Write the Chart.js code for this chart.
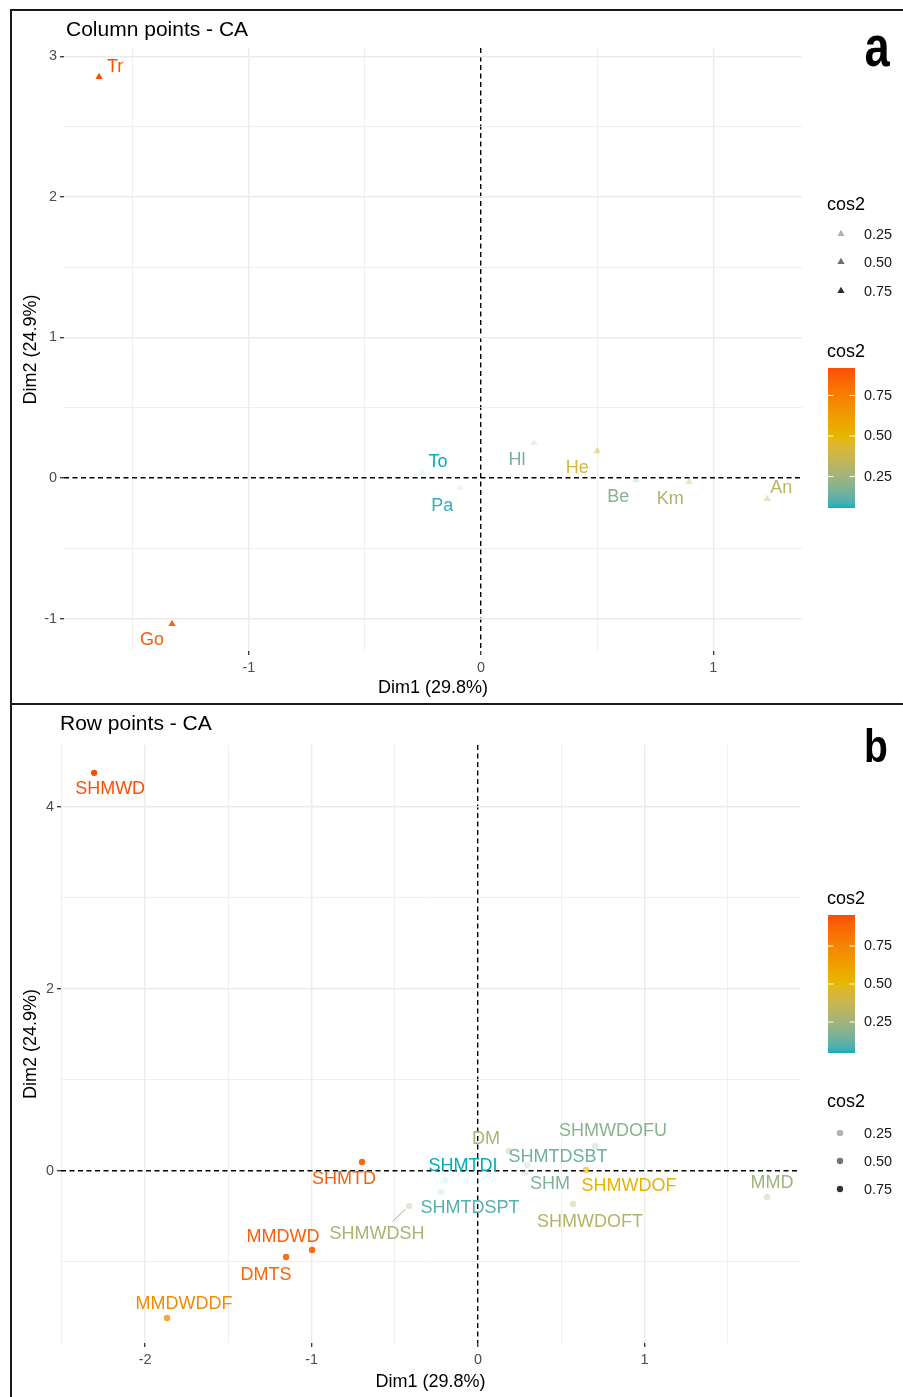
<!DOCTYPE html>
<html><head><meta charset="utf-8">
<script src="https://cdn.jsdelivr.net/npm/chart.js@4.4.1/dist/chart.umd.min.js"></script>
<style>
html,body{margin:0;padding:0;background:#fff;}
body{width:903px;height:1397px;position:relative;overflow:hidden;}
#ca{position:absolute;left:0;top:0;width:903px;height:703px;}
#cb{position:absolute;left:0;top:703px;width:903px;height:694px;}
</style></head><body>
<canvas id="ca" width="903" height="703"></canvas>
<canvas id="cb" width="903" height="694"></canvas>
<script>
// ================= DATA =================
// Panel a: column points
const colLabels = ['Tr','Go','To','Pa','Hl','He','Be','Km','An'];
const colDim1 = [-1.645,-1.331,-0.254,-0.090,0.228,0.500,0.668,0.896,1.232];
const colDim2 = [2.854,-1.039,0.036,-0.071,0.249,0.192,-0.014,-0.028,-0.149];
const colCos2 = [0.920,0.880,0.056,0.070,0.150,0.420,0.200,0.300,0.330];

// Panel b: row points
const rowLabels = ['SHMWD','SHMTD','MMDWD','DMTS','MMDWDDF','SHMWDSH','SHMTDI','SHMTDSPT','DM','SHMTDSBT','SHM','SHMWDOFU','SHMWDOF','SHMWDOFT','MMD'];
const rowDim1 = [-2.306,-0.697,-0.997,-1.153,-1.868,-0.414,-0.198,-0.222,0.186,0.294,0.282,0.703,0.649,0.571,1.736];
const rowDim2 = [4.374,0.099,-0.868,-0.945,-1.615,-0.385,-0.099,-0.231,0.220,0.066,-0.022,0.275,0.011,-0.363,-0.286];
const rowCos2 = [0.954,0.900,0.900,0.880,0.720,0.270,0.046,0.100,0.280,0.140,0.170,0.190,0.530,0.300,0.250];

// Ticks (grid positions) and labelled ticks
const xTicksA = [-1.5,-1,-0.5,0,0.5,1];
const xLabelsA = [-1,0,1];
const yTicksA = [-1,-0.5,0,0.5,1,1.5,2,2.5,3];
const yLabelsA = [-1,0,1,2,3];
const xTicksB = [-2.5,-2,-1.5,-1,-0.5,0,0.5,1,1.5];
const xLabelsB = [-2,-1,0,1];
const yTicksB = [-1,0,1,2,3,4];
const yLabelsB = [0,2,4];
const legendBreaks = [0.25,0.50,0.75];
const axisTitleX = 'Dim1 (29.8%)';
const axisTitleY = 'Dim2 (24.9%)';

// ================= LAYOUT (label nudges in px, not data) =================
const colNudge = [[16,-10],[-20,16],[16,-11],[-18,18],[-17,17],[-20,17],[-18,17],[-19,17],[14,-11]];
const rowNudge = [[16,16],[-18,17],[-29,-13],[-20,18],[17,-14],[-32,28],[18,-14],[29,16],[-23,-12],[31,-8],[25,11],[18,-15],[43,16],[17,18],[5,-14]];
const rowSegments = ['SHMWDSH'];

const FONT = "'Liberation Sans', Arial, Helvetica, sans-serif";
Chart.defaults.font.family = FONT;

// ---- colour ramp in CIELAB (like ggplot gradientn) ----
const STOPS = ['#00AFBB','#E7B800','#FC4E07'];
function hex2rgb(h){return [1,3,5].map(i=>parseInt(h.slice(i,i+2),16));}
function lin(c){c/=255;return c<=0.04045?c/12.92:Math.pow((c+0.055)/1.055,2.4);}
function unlin(c){const v=c<=0.0031308?12.92*c:1.055*Math.pow(c,1/2.4)-0.055;return Math.round(Math.max(0,Math.min(1,v))*255);}
const WX=0.95047, WZ=1.08883;
function f(t){return t>0.008856?Math.cbrt(t):7.787*t+16/116;}
function finv(t){const t3=t*t*t;return t3>0.008856?t3:(t-16/116)/7.787;}
function rgb2lab(rgb){const [R,G,B]=rgb.map(lin);
  const X=0.4124*R+0.3576*G+0.1805*B, Y=0.2126*R+0.7152*G+0.0722*B, Z=0.0193*R+0.1192*G+0.9505*B;
  const fx=f(X/WX),fy=f(Y),fz=f(Z/WZ);return [116*fy-16,500*(fx-fy),200*(fy-fz)];}
function lab2rgb(l){const fy=(l[0]+16)/116, fx=fy+l[1]/500, fz=fy-l[2]/200;
  const X=WX*finv(fx),Y=finv(fy),Z=WZ*finv(fz);
  const R=3.2406*X-1.5372*Y-0.4986*Z,G=-0.9689*X+1.8758*Y+0.0415*Z,B=0.0557*X-0.2040*Y+1.0570*Z;
  return [R,G,B].map(unlin);}
const LABS = STOPS.map(h=>rgb2lab(hex2rgb(h)));
function ramp(t){t=Math.max(0,Math.min(1,t));const s=t<0.5?0:1;const u=(t-s*0.5)/0.5;
  const A=LABS[s],B=LABS[s+1];return lab2rgb([0,1,2].map(k=>A[k]+(B[k]-A[k])*u));}
const rgba=(c,a)=>`rgba(${c[0]},${c[1]},${c[2]},${a})`;

function buildPanel(id, P){
  const min=Math.min(...P.cos2), max=Math.max(...P.cos2);
  const tOf=v=>(v-min)/(max-min);
  const col=v=>ramp(tOf(v));
  const alphaOf=v=>0.1+0.9*Math.max(0,Math.min(1,tOf(v)));
  const ptColors=P.cos2.map(v=>rgba(col(v),alphaOf(v)));
  const isZero=c=>c.tick && Math.abs(c.tick.value)<1e-9;

  function gridOpts(majors){
    return {
      color:c=>isZero(c)?'#000':'#EBEBEB',
      lineWidth:c=>isZero(c)?1.4:(c.tick && majors.includes(c.tick.value)?1.4:0.8),
      tickColor:c=>(c.tick && majors.includes(c.tick.value))?'#333':'rgba(0,0,0,0)',
      tickLength:4, tickWidth:1.3, drawTicks:true
    };
  }
  const borderOpts={display:false, dash:c=>isZero(c)?[5,3.5]:[]};

  const decor={
    id:'decor'+id,
    beforeDraw(chart){
      const ctx=chart.ctx;
      ctx.save();
      ctx.fillStyle='#fff';ctx.fillRect(0,0,chart.width,chart.height);
      ctx.strokeStyle='#1a1a1a';ctx.lineWidth=2;
      ctx.beginPath();ctx.moveTo(11,chart.height);ctx.lineTo(11,P.frameTop);ctx.lineTo(chart.width,P.frameTop);ctx.stroke();
      ctx.restore();
    },
    afterDatasetsDraw(chart){
      const ctx=chart.ctx, meta=chart.getDatasetMeta(0);
      ctx.save();
      ctx.font=`18px ${FONT}`;ctx.textAlign='center';ctx.textBaseline='middle';
      meta.data.forEach((el,i)=>{
        const [dx,dy]=P.nudge[i];
        const c=rgba(col(P.cos2[i]),1);
        if(P.segments.includes(P.labels[i])){
          ctx.strokeStyle=c;ctx.lineWidth=1;
          ctx.beginPath();ctx.moveTo(el.x+dx*0.12,el.y+dy*0.12);ctx.lineTo(el.x+dx*0.52,el.y+dy*0.55);ctx.stroke();
        }
        ctx.fillStyle=c;
        ctx.fillText(P.labels[i],el.x+dx,el.y+dy);
      });
      ctx.restore();
    },
    afterDraw(chart){
      const ctx=chart.ctx;
      ctx.save();
      // title
      ctx.fillStyle='#000';ctx.font=`21px ${FONT}`;ctx.textAlign='left';ctx.textBaseline='middle';
      ctx.fillText(P.title,P.titleX,P.titleY);
      // panel letter
      ctx.save();ctx.translate(P.letter.x,P.letter.y);ctx.scale(P.letter.sx,1);
      ctx.font=`bold ${P.letter.size}px ${FONT}`;ctx.textAlign='center';ctx.textBaseline='alphabetic';
      ctx.fillText(P.letter.text,0,0);ctx.restore();
      // colour bar legend
      const L=P.legend;
      ctx.font=`18px ${FONT}`;ctx.fillStyle='#000';ctx.textAlign='left';ctx.textBaseline='middle';
      ctx.fillText('cos2',L.barX-1,L.colTitleY);
      const bt=L.barTop,bb=L.barBottom,bh=bb-bt;
      for(let y=bt;y<bb;y++){
        const v=max-((y+0.5-bt)/bh)*(max-min);
        ctx.fillStyle=rgba(ramp(tOf(v)),1);ctx.fillRect(L.barX,y,L.barW,1);
      }
      ctx.font=`14.4px ${FONT}`;
      legendBreaks.forEach(b=>{
        const y=bb-(b-min)/(max-min)*bh;
        ctx.strokeStyle='#fff';ctx.lineWidth=1;
        ctx.beginPath();ctx.moveTo(L.barX,y);ctx.lineTo(L.barX+L.barW*0.2,y);
        ctx.moveTo(L.barX+L.barW*0.8,y);ctx.lineTo(L.barX+L.barW,y);ctx.stroke();
        ctx.fillStyle='#1a1a1a';ctx.fillText(b.toFixed(2),L.textX,y);
      });
      // alpha legend
      ctx.font=`18px ${FONT}`;ctx.fillStyle='#000';
      ctx.fillText('cos2',L.barX-1,L.alphaTitleY);
      ctx.font=`14.4px ${FONT}`;
      legendBreaks.forEach((b,k)=>{
        const y=L.alphaY[k], a=alphaOf(b);
        ctx.fillStyle=`rgba(0,0,0,${a})`;
        ctx.beginPath();
        if(P.pointStyle==='triangle'){
          const r=P.radius;
          ctx.moveTo(L.symX,y-r);ctx.lineTo(L.symX+r*0.866,y+r*0.5);ctx.lineTo(L.symX-r*0.866,y+r*0.5);ctx.closePath();
        } else {
          ctx.arc(L.symX,y,P.radius,0,Math.PI*2);
        }
        ctx.fill();
        ctx.fillStyle='#1a1a1a';ctx.fillText(b.toFixed(2),L.textX,y+1);
      });
      ctx.restore();
    }
  };

  return new Chart(document.getElementById(id),{
    type:'scatter',
    data:{datasets:[{
      data:P.d1.map((x,i)=>({x,y:P.d2[i]})),
      pointStyle:P.pointStyle, pointRadius:P.radius, pointHoverRadius:P.radius,
      pointBackgroundColor:ptColors, pointBorderColor:ptColors, pointBorderWidth:0
    }]},
    options:{
      responsive:false, animation:false, events:[],
      layout:{padding:{left:11,top:P.areaTop,right:P.padRight,bottom:0}},
      plugins:{legend:{display:false},tooltip:{enabled:false},title:{display:false}},
      scales:{
        x:{type:'linear',min:P.xMin,max:P.xMax,
          afterBuildTicks:s=>{s.ticks=P.xTicks.map(v=>({value:v}));},
          afterFit:s=>{s.height=P.xAxisH;},
          ticks:{autoSkip:false,maxRotation:0,minRotation:0,padding:4,color:'#4D4D4D',font:{size:14.4},
            callback:v=>P.xLabels.includes(v)?String(v):''},
          grid:gridOpts(P.xLabels), border:borderOpts,
          title:{display:true,text:axisTitleX,color:'#000',font:{size:18},padding:{top:0,bottom:4}}
        },
        y:{type:'linear',min:P.yMin,max:P.yMax,
          afterBuildTicks:s=>{s.ticks=P.yTicks.map(v=>({value:v}));},
          afterFit:s=>{s.width=P.yAxisW;},
          ticks:{autoSkip:false,padding:3,color:'#4D4D4D',font:{size:14.4},
            callback:v=>P.yLabels.includes(v)?String(v):''},
          grid:gridOpts(P.yLabels), border:borderOpts,
          title:{display:true,text:axisTitleY,color:'#000',font:{size:18},padding:{top:9,bottom:0}}
        }
      }
    },
    plugins:[decor]
  });
}

buildPanel('ca',{
  labels:colLabels,d1:colDim1,d2:colDim2,cos2:colCos2,nudge:colNudge,segments:[],
  pointStyle:'triangle',radius:4.2,
  xMin:-1.796,xMax:1.382,yMin:-1.231,yMax:3.06,
  xTicks:xTicksA,xLabels:xLabelsA,yTicks:yTicksA,yLabels:yLabelsA,
  areaTop:48,padRight:101,yAxisW:53,xAxisH:52,frameTop:10,
  title:'Column points - CA',titleX:66,titleY:30,
  letter:{text:'a',x:877,y:66,size:58,sx:0.78},
  legend:{barX:828,barW:27,barTop:368,barBottom:508,colTitleY:352,alphaTitleY:205,alphaY:[234,262,291],symX:841,textX:864}
});

buildPanel('cb',{
  labels:rowLabels,d1:rowDim1,d2:rowDim2,cos2:rowCos2,nudge:rowNudge,segments:rowSegments,
  pointStyle:'circle',radius:3.2,
  xMin:-2.505,xMax:1.934,yMin:-1.89,yMax:4.68,
  xTicks:xTicksB,xLabels:xLabelsB,yTicks:yTicksB,yLabels:yLabelsB,
  areaTop:42,padRight:103,yAxisW:50,xAxisH:54,frameTop:1,
  title:'Row points - CA',titleX:60,titleY:21,
  letter:{text:'b',x:876,y:59,size:46,sx:0.85},
  legend:{barX:828,barW:27,barTop:212,barBottom:350,colTitleY:196,alphaTitleY:399,alphaY:[430,458,486],symX:840,textX:864}
});
</script></body></html>
